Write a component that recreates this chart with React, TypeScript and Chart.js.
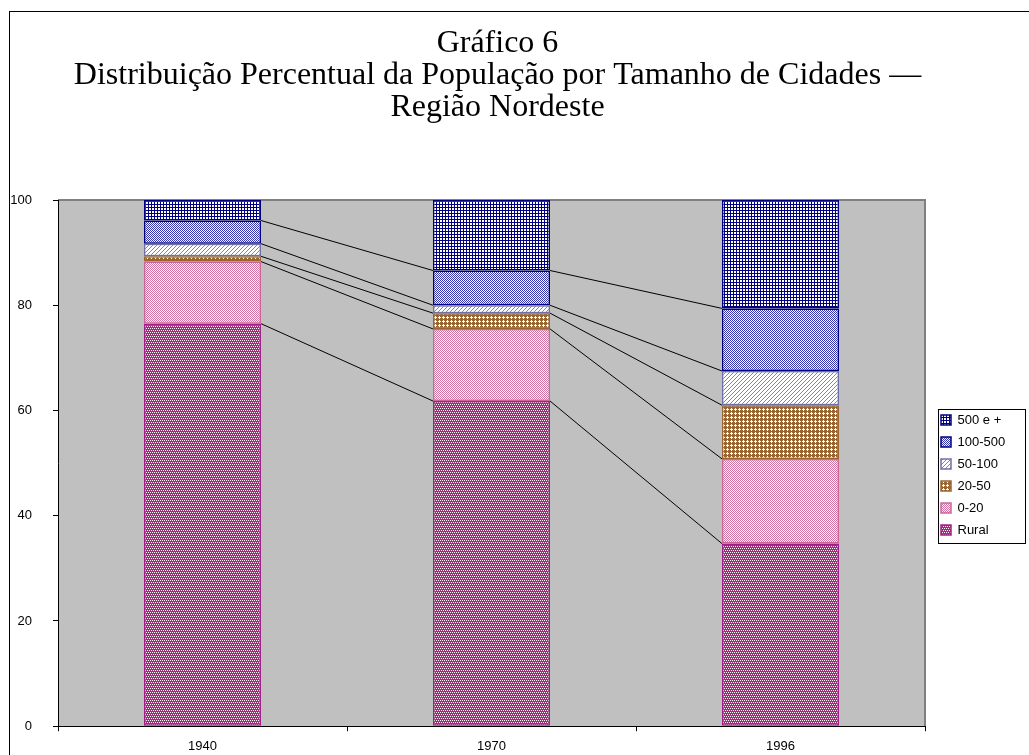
import React, { useEffect, useRef } from 'react';
import { Chart, registerables } from 'chart.js';

Chart.register(...registerables);

// ---- data ----
const categories = ['1940', '1970', '1996'];
const seriesNames = ['Rural', '0-20', '20-50', '50-100', '100-500', '500 e +'];
const rural = [76.5, 61.8, 34.7];
const size0to20 = [11.8, 13.7, 16.1];
const size20to50 = [1.0, 3.0, 10.2];
const size50to100 = [2.4, 1.5, 6.5];
const size100to500 = [4.4, 6.6, 11.9];
const size500plus = [3.9, 13.4, 20.6];
const yTicks = [0, 20, 40, 60, 80, 100];
const titleLines = [
  'Gráfico 6',
  'Distribuição Percentual da População por Tamanho de Cidades —',
  'Região Nordeste',
];

type Cell = [number, number];

function makePattern(size: number, bg: string, fg: string, cells: Cell[]) {
  const c = document.createElement('canvas');
  c.width = size;
  c.height = size;
  const g = c.getContext('2d')!;
  g.fillStyle = bg;
  g.fillRect(0, 0, size, size);
  g.fillStyle = fg;
  cells.forEach(([x, y]) => g.fillRect(x, y, 1, 1));
  return g.createPattern(c, 'repeat')!;
}

const plotBackground = {
  id: 'plotBackground',
  beforeDraw(chart: any) {
    const { ctx, chartArea: a } = chart;
    ctx.save();
    ctx.fillStyle = '#C0C0C0';
    ctx.fillRect(a.left, a.top, a.right - a.left, a.bottom - a.top);
    ctx.strokeStyle = '#808080';
    ctx.lineWidth = 2;
    ctx.beginPath();
    ctx.moveTo(a.left, a.top);
    ctx.lineTo(a.right, a.top);
    ctx.lineTo(a.right, a.bottom);
    ctx.stroke();
    ctx.restore();
  },
};

const seriesLines = {
  id: 'seriesLines',
  afterDatasetsDraw(chart: any) {
    const ctx = chart.ctx;
    ctx.save();
    ctx.strokeStyle = '#000';
    ctx.lineWidth = 1;
    const n = chart.data.datasets.length;
    for (let di = 0; di < n - 1; di++) {
      const meta = chart.getDatasetMeta(di);
      for (let i = 0; i < meta.data.length - 1; i++) {
        const a: any = meta.data[i];
        const b: any = meta.data[i + 1];
        ctx.beginPath();
        ctx.moveTo(a.x + a.width / 2, a.y);
        ctx.lineTo(b.x - b.width / 2, b.y);
        ctx.stroke();
      }
    }
    ctx.restore();
  },
};

const legendPlacement = {
  id: 'legendPlacement',
  beforeLayout(chart: any) {
    const lg = chart.legend;
    if (lg && !lg._fitPatched) {
      const orig = lg.fit;
      lg.fit = function () {
        orig.call(this);
        this.width = 104;
      };
      lg._fitPatched = true;
    }
  },
  afterLayout(chart: any) {
    const lg = chart.legend;
    const a = chart.chartArea;
    const tb = chart.titleBlock;
    if (tb) {
      tb.left += 6;
      tb.right += 6;
    }
    if (!lg) return;
    const h = lg.height;
    const w = lg.width;
    lg.left = a.right + 7;
    lg.right = lg.left + w;
    lg.top = a.top + 204.5;
    lg.bottom = lg.top + h;
  },
  afterDraw(chart: any) {
    const lg = chart.legend;
    if (!lg) return;
    const ctx = chart.ctx;
    ctx.save();
    ctx.strokeStyle = '#000';
    ctx.lineWidth = 1;
    const x0 = Math.round(lg.left + 6) + 0.5;
    const y0 = Math.round(lg.top + 4) + 0.5;
    ctx.strokeRect(x0, y0, 87, 134);
    ctx.restore();
  },
};

export default function App() {
  const ref = useRef<HTMLCanvasElement>(null);

  useEffect(() => {
    if (!ref.current) return;
    const pRural = makePattern(4, '#A02C78', '#FFFFFF', [[0, 0], [2, 0], [1, 2], [3, 2]]);
    const p0 = makePattern(2, '#FFFFFF', '#D070A0', [[0, 0], [1, 1]]);
    const p20 = makePattern(4, '#996633', '#FFFFFF', [[1, 0], [0, 1], [1, 1], [2, 1], [1, 2]]);
    const p50 = makePattern(4, '#FFFFFF', '#8080C0', [[0, 3], [1, 2], [2, 1], [3, 0]]);
    const p100 = makePattern(2, '#FFFFFF', '#3434B0', [[0, 0], [1, 1]]);
    const p500 = makePattern(3, '#000080', '#FFFFFF', [[1, 1], [2, 1], [1, 2], [2, 2]]);

    const values = [rural, size0to20, size20to50, size50to100, size100to500, size500plus];
    const fills = [pRural, p0, p20, p50, p100, p500];
    const borders = ['#A0208A', '#CC6699', '#996633', '#7070A8', '#000080', '#000080'];

    const chart = new Chart(ref.current, {
      type: 'bar',
      data: {
        labels: categories,
        datasets: seriesNames.map((name, i) => ({
          label: name,
          data: values[i],
          backgroundColor: fills[i] as any,
          borderColor: borders[i],
          borderWidth: 1.5,
          borderSkipped: false,
          categoryPercentage: 1,
          barPercentage: 0.405,
        })),
      },
      options: {
        responsive: false,
        animation: false,
        devicePixelRatio: 1,
        layout: { padding: 0 },
        plugins: {
          title: {
            display: true,
            text: titleLines,
            fullSize: false,
            color: '#000',
            font: { family: '"Liberation Serif", "Times New Roman", serif', size: 32, weight: 'normal', lineHeight: '32px' as any },
            padding: { top: 16, bottom: 76 },
          },
          legend: {
            display: true,
            position: 'right',
            align: 'start',
            reverse: true,
            labels: {
              color: '#000',
              font: { family: '"Liberation Sans", Arial, sans-serif', size: 13 },
              boxWidth: 10,
              boxHeight: 10,
              padding: 9,
            },
          },
          tooltip: { enabled: false },
        },
        scales: {
          x: {
            stacked: true,
            grid: { display: true, drawOnChartArea: false, offset: true, tickLength: 5, color: '#000' },
            border: { display: true, color: '#000', width: 1 },
            ticks: { color: '#000', font: { family: '"Liberation Sans", Arial, sans-serif', size: 13 }, padding: 7 },
            afterFit: (s: any) => { s.height = 27; },
          },
          y: {
            stacked: true,
            min: 0,
            max: 100,
            grid: { display: true, drawOnChartArea: false, tickLength: 5, color: '#000' },
            border: { display: true, color: '#000', width: 1 },
            ticks: { color: '#000', font: { family: '"Liberation Sans", Arial, sans-serif', size: 13 }, padding: 21 },
            afterBuildTicks: (s: any) => { s.ticks = yTicks.map((v) => ({ value: v })); },
            afterFit: (s: any) => { s.width = 48; },
          },
        },
      },
      plugins: [plotBackground, seriesLines, legendPlacement],
    });
    return () => chart.destroy();
  }, []);

  return (
    <div
      style={{
        position: 'absolute',
        left: 9,
        top: 11,
        width: 1020,
        height: 744,
        borderLeft: '1px solid #000',
        borderTop: '1px solid #000',
        boxSizing: 'border-box',
        background: '#fff',
        overflow: 'hidden',
      }}
    >
      <canvas ref={ref} width={1019} height={743} style={{ display: 'block', width: 1019, height: 743 }} />
    </div>
  );
}
